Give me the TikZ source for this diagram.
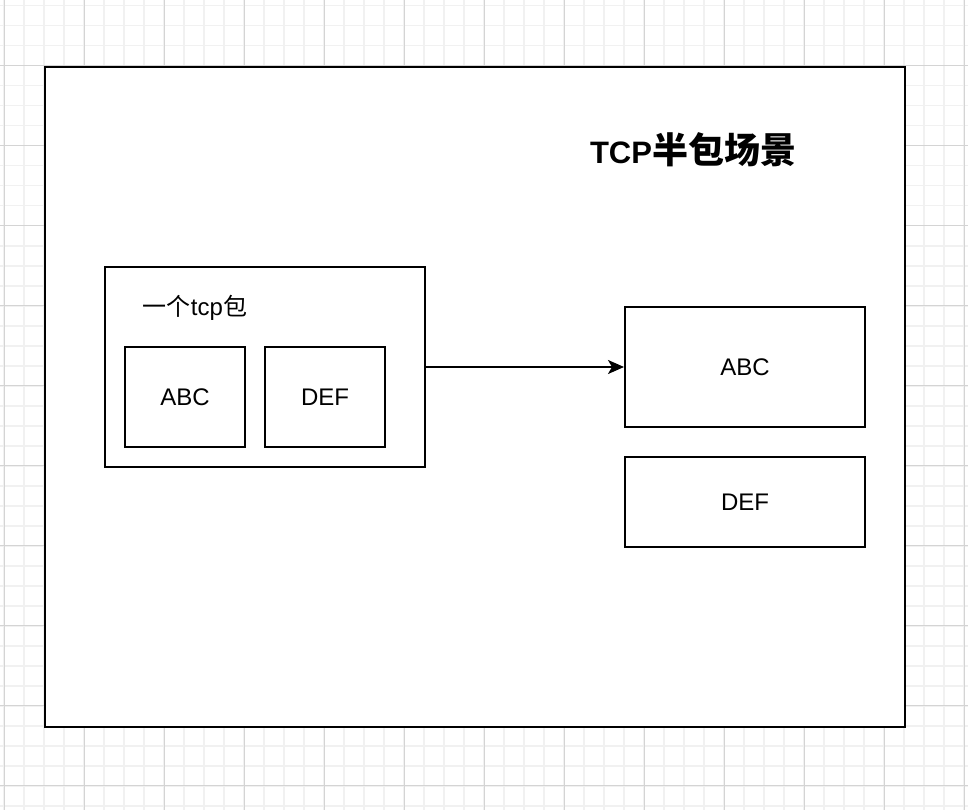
\documentclass[tikz,border=0pt]{standalone}
\usepackage{fontspec}
\setmainfont{Liberation Sans}
\newfontfamily\cjk{Noto Sans CJK SC}
\usetikzlibrary{arrows.meta}
\definecolor{gridminor}{HTML}{F1F1F1}
\definecolor{gridmajor}{HTML}{D4D4D4}
\newcommand{\zh}[1]{{\cjk #1}}
\newcommand{\boxfont}{\fontsize{24}{28}\selectfont}
\newcommand{\titlefont}{\bfseries\fontsize{31}{36}\selectfont}

\begin{document}
\begin{tikzpicture}[x=1pt,y=-1pt,
  frame/.style={draw=black,fill=white,line width=2pt},
  pkt/.style={draw=black,fill=white,line width=2pt,inner sep=0pt,font=\boxfont},
  arr/.style={line width=2pt,-{Stealth[length=16pt,width=14pt,inset=4pt]}}]
\useasboundingbox (0,0) rectangle (968,810);
\fill[white] (0,0) rectangle (968,810);
\foreach \gx in {4,24,...,964} \draw[gridminor,line width=1.6pt] (\gx,0) -- (\gx,810);
\foreach \gy in {5.7,25.7,...,805.7} \draw[gridminor,line width=1.6pt] (0,\gy) -- (968,\gy);
\foreach \gx in {4,84,...,964} \draw[gridmajor,line width=1pt] (\gx,0) -- (\gx,810);
\foreach \gy in {65.7,145.7,...,785.7} \draw[gridmajor,line width=1pt] (0,\gy) -- (968,\gy);
\draw[frame] (45,67) rectangle (905,727);
\node (title) at (693,150) {\titlefont TCP{\cjk\fontsize{36}{40}\selectfont 半包场景}};
\node[pkt,minimum width=320pt,minimum height=200pt] (onepkt) at (265,367) {};
\node[font=\boxfont] (pktlabel) at (195,308) {\zh{一个}tcp\zh{包}};
\node[pkt,minimum width=120pt,minimum height=100pt] (abcin) at (185,397) {ABC};
\node[pkt,minimum width=120pt,minimum height=100pt] (defin) at (325,397) {DEF};
\node[pkt,minimum width=240pt,minimum height=120pt] (abcout) at (745,367) {ABC};
\node[pkt,minimum width=240pt,minimum height=90pt] (defout) at (745,502) {DEF};
\draw[arr] (onepkt.east) -- (abcout.west);
\end{tikzpicture}
\end{document}
